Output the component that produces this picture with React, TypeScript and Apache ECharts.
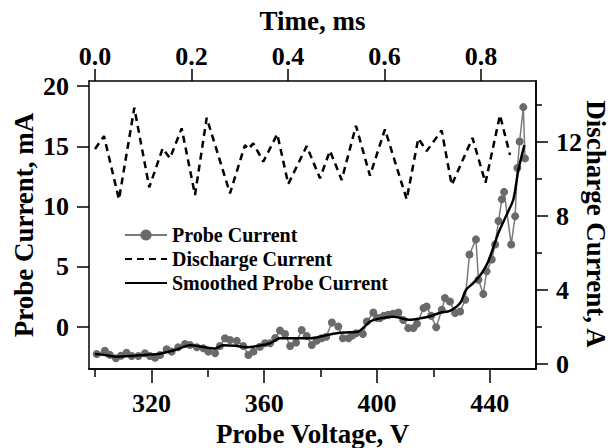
import React, { useEffect, useRef } from "react";
import * as echarts from "echarts";

// Probe current (mA) vs probe voltage (V)
const voltage = [
  300.6, 303.5, 305.3, 307.4, 309.2, 311.2, 313.0, 315.4, 317.7, 319.5,
  321.3, 323.1, 325.4, 327.2, 329.5, 331.9, 333.7, 336.1, 338.4, 340.2,
  342.6, 344.3, 346.1, 347.9, 350.3, 352.6, 354.4, 356.2, 358.5, 360.3,
  362.1, 363.9, 365.6, 367.4, 369.2, 371.3, 373.3, 375.1, 376.9, 378.6,
  380.4, 382.0, 384.0, 386.3, 387.9, 389.9, 391.2, 392.6, 395.0, 396.4,
  398.7, 400.0, 401.1, 402.5, 404.0, 405.7, 407.6, 409.3, 411.1, 412.9,
  414.2, 416.5, 417.6, 419.2, 421.0, 423.0, 424.1, 425.9, 427.7, 429.5,
  431.3, 432.8, 435.1, 436.0, 437.7, 438.9, 440.7, 441.9, 443.1, 444.3,
  445.1, 447.6, 449.0, 449.8, 450.6, 451.9, 452.5,
];
const probeCurrent = [
  -2.23, -1.95, -2.3, -2.58, -2.37, -2.12, -2.39, -2.39, -2.17, -2.39,
  -2.53, -2.31, -1.83, -2.03, -1.67, -1.39, -1.48, -1.67, -1.75, -2.03,
  -2.17, -1.56, -0.92, -1.06, -1.14, -1.56, -2.31, -2.03, -1.62, -1.33,
  -1.33, -0.9, -0.28, -0.56, -1.56, -1.28, -0.23, -0.73, -1.48, -1.12,
  -0.92, -0.8, 0.38, 0.05, -0.92, -0.92, -0.7, -0.5, -0.56, 0.47,
  1.22, 0.77, 0.75, 0.94, 1.03, 1.11, 1.22, 0.6, -0.08, -0.08,
  0.28, 1.58, 1.72, 0.94, 0.0, 1.44, 2.42, 2.13, 1.17, 1.3,
  2.28, 6.03, 7.28, 3.94, 2.75, 4.63, 5.61, 6.86, 8.8, 10.61,
  11.22, 6.86, 9.2, 13.2, 15.4, 18.25, 14.0,
];

// Smoothed probe current (mA)
const smoothVoltage = [
  300.0, 303.5, 307.7, 312.4, 317.7, 323.1, 328.4, 333.7, 338.3, 342.6,
  345.4, 349.7, 353.8, 357.8, 362.1, 365.6, 371.0, 376.3, 380.9, 385.7,
  390.5, 393.4, 397.6, 401.1, 405.7, 411.7, 415.3, 418.8, 422.4, 425.9,
  429.5, 431.6, 434.2, 437.2, 439.5, 443.1, 446.6, 448.4, 450.2, 452.3,
];
const smoothCurrent = [
  -2.23, -2.3, -2.45, -2.4, -2.3, -2.2, -1.9, -1.5, -1.65, -1.77,
  -1.5, -1.55, -1.67, -1.55, -1.33, -0.92, -0.92, -0.92, -0.73, -0.5,
  -0.43, -0.37, 0.47, 0.73, 0.86, 0.61, 0.73, 0.9, 1.2, 1.36,
  2.0, 3.1, 3.67, 4.5, 5.47, 7.83, 9.63, 10.61, 13.1, 15.1,
];

// Discharge current (A) vs time (ms)
const time = [
  0.0, 0.0187, 0.0497, 0.0815, 0.1125, 0.1403, 0.1554, 0.1797, 0.2073, 0.2315,
  0.2798, 0.3109, 0.3177, 0.3281, 0.3488, 0.3778, 0.4006, 0.4388, 0.4663, 0.487,
  0.5113, 0.5409, 0.5699, 0.601, 0.646, 0.6701, 0.6875, 0.7185, 0.7393, 0.7824,
  0.8093, 0.8394, 0.8601,
];
const dischargeCurrent = [
  11.62, 12.32, 8.9, 13.85, 9.55, 11.66, 11.12, 12.74, 9.14, 13.31,
  9.23, 11.84, 11.61, 11.93, 10.94, 12.43, 9.73, 11.78, 10.04, 11.53,
  9.95, 12.88, 10.18, 12.69, 8.9, 12.2, 11.51, 12.63, 9.68, 12.22,
  9.8, 13.46, 11.3,
];

const voltageMajorTicks = [320, 360, 400, 440];
const voltageMinorTicks = [300, 340, 380, 420];
const currentTicks = [0, 5, 10, 15, 20];
const timeTicks = [0, 0.2, 0.4, 0.6, 0.8];
const dischargeMajorTicks = [0, 4, 8, 12];
const dischargeMinorTicks = [2, 6, 10, 14];

const FONT = "'Liberation Serif', 'Times New Roman', Times, serif";
const LINE = { onZero: false, lineStyle: { color: "#000", width: 1.5 } };
const HIDDEN_SYMBOL = { color: "rgba(0,0,0,0)", borderWidth: 0, opacity: 0 };

export default function App() {
  const ref = useRef<HTMLDivElement>(null);
  useEffect(() => {
    if (!ref.current) return;
    const chart = echarts.init(ref.current, undefined, { renderer: "svg" });
    const tickLabel = { fontFamily: FONT, fontWeight: "bold", fontSize: 26, color: "#000" };
    const nameStyle = { fontFamily: FONT, fontWeight: "bold", fontSize: 27, color: "#000" };
    const tickStyle = { color: "#000", width: 1.5 };
    const vMin = 297.87, vMax = 456.4;
    const tMin = -0.0124, tMax = 0.914;
    const titleFont = `bold 27px ${FONT}`;
    chart.setOption({
      animation: false,
      backgroundColor: "#fff",
      grid: {
        left: 89, top: 81, width: 447, height: 288,
        containLabel: false, outerBoundsMode: "none",
      },
      graphic: [
        {
          type: "text", x: 24, y: 225, rotation: Math.PI / 2,
          style: { text: "Probe Current, mA", font: titleFont, fill: "#000", align: "center", verticalAlign: "middle" },
        },
        {
          type: "text", x: 596, y: 224, rotation: -Math.PI / 2,
          style: { text: "Discharge Current, A", font: titleFont, fill: "#000", align: "center", verticalAlign: "middle" },
        },
      ],
      legend: {
        orient: "vertical",
        left: 119,
        top: 219,
        itemWidth: 42,
        itemHeight: 14,
        itemGap: 2,
        textStyle: { fontFamily: FONT, fontWeight: "bold", fontSize: 20, color: "#000", lineHeight: 22 },
        data: [
          { name: "Probe Current" },
          { name: "Discharge Current", itemStyle: HIDDEN_SYMBOL },
          { name: "Smoothed Probe Current", itemStyle: HIDDEN_SYMBOL },
        ],
      },
      xAxis: [
        {
          type: "value", position: "bottom", min: vMin, max: vMax,
          axisLine: LINE, splitLine: { show: false },
          axisTick: { show: true, length: 14, lineStyle: tickStyle, customValues: voltageMajorTicks },
          axisLabel: { ...tickLabel, margin: 21, customValues: voltageMajorTicks },
          name: "Probe Voltage, V", nameLocation: "middle", nameGap: 46, nameTextStyle: nameStyle,
        },
        {
          type: "value", position: "bottom", min: vMin, max: vMax,
          axisLine: LINE, splitLine: { show: false },
          axisTick: { show: true, length: 8, lineStyle: tickStyle, customValues: voltageMinorTicks },
          axisLabel: { show: false },
        },
        {
          type: "value", position: "top", min: tMin, max: tMax,
          axisLine: LINE, splitLine: { show: false },
          axisTick: { show: true, length: 12, lineStyle: tickStyle, customValues: timeTicks },
          axisLabel: { ...tickLabel, margin: 12, customValues: timeTicks, formatter: (v: number) => v.toFixed(1) },
          name: "Time, ms", nameLocation: "middle", nameGap: 47, nameTextStyle: nameStyle,
        },
      ],
      yAxis: [
        {
          type: "value", position: "left", min: -3.47, max: 20.42,
          axisLine: LINE, splitLine: { show: false },
          axisTick: { show: true, length: 12, lineStyle: tickStyle, customValues: currentTicks },
          axisLabel: { ...tickLabel, margin: 20, customValues: currentTicks },
        },
        {
          type: "value", position: "right", min: -0.27, max: 15.3,
          axisLine: LINE, splitLine: { show: false },
          axisTick: { show: true, length: 12, lineStyle: tickStyle, customValues: dischargeMajorTicks },
          axisLabel: { ...tickLabel, margin: 20, customValues: dischargeMajorTicks },
        },
        {
          type: "value", position: "right", min: -0.27, max: 15.3,
          axisLine: LINE, splitLine: { show: false },
          axisTick: { show: true, length: 6, lineStyle: tickStyle, customValues: dischargeMinorTicks },
          axisLabel: { show: false },
        },
      ],
      series: [
        {
          name: "Probe Current", type: "line", xAxisIndex: 0, yAxisIndex: 0,
          data: voltage.map((v, i) => [v, probeCurrent[i]]),
          symbol: "circle", symbolSize: 8, showSymbol: true,
          lineStyle: { color: "#7a7a7a", width: 1.5 },
          itemStyle: { color: "#6a6a6a" },
          z: 2,
        },
        {
          name: "Discharge Current", type: "line", xAxisIndex: 2, yAxisIndex: 1,
          data: time.map((t, i) => [t, dischargeCurrent[i]]),
          showSymbol: false, symbol: "none",
          lineStyle: { color: "#000", width: 2.5, type: [7, 5] },
          itemStyle: { color: "#000" },
          z: 3,
        },
        {
          name: "Smoothed Probe Current", type: "line", xAxisIndex: 0, yAxisIndex: 0,
          data: smoothVoltage.map((v, i) => [v, smoothCurrent[i]]),
          showSymbol: false, symbol: "none", smooth: 0.3,
          lineStyle: { color: "#000", width: 2.5 },
          itemStyle: { color: "#000" },
          z: 4,
        },
      ],
    });
    return () => chart.dispose();
  }, []);
  return (
    <div
      ref={ref}
      style={{ position: "fixed", left: 0, top: 0, width: 613, height: 448, background: "#fff" }}
    />
  );
}
